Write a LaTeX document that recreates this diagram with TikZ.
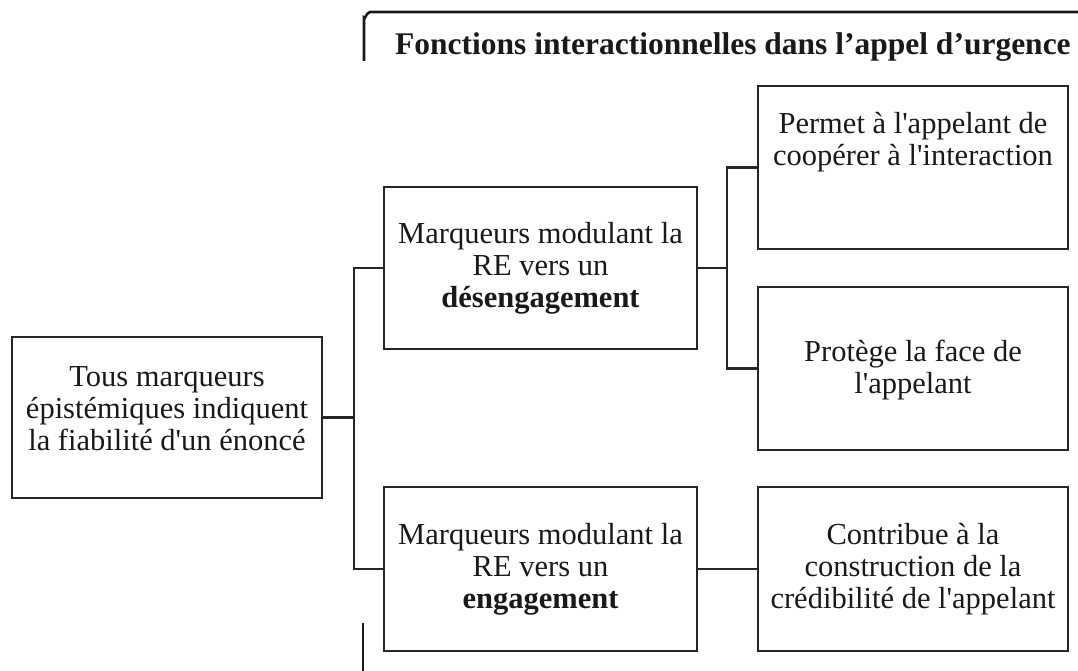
\documentclass[tikz,border=0pt]{standalone}
\usepackage{fontspec}
\setmainfont[Ligatures=TeXOff]{Liberation Serif}
\usetikzlibrary{calc}
\begin{document}
\begin{tikzpicture}[x=1pt,y=-1pt,
  box/.style={draw=black!85, line width=2.4pt, minimum width=310pt, minimum height=162pt, inner sep=0pt},
  txt/.style={align=center, inner sep=0pt, text=black!90, font=\fontsize{30.5}{32}\selectfont},
  lnk/.style={draw=black!85, line width=2.3pt},
  brk/.style={draw=black!90, line width=2.6pt}]
\useasboundingbox (0,0) rectangle (1078,671);
% boxes
\node[box, minimum height=161pt] (left) at (167,417.5) {};
\node[box, minimum width=313pt] (mt) at (540.5,268) {};
\node[box, minimum width=313pt, minimum height=164pt] (mb) at (540.5,569) {};
\node[box, minimum height=163pt] (rt) at (913,167.5) {};
\node[box, minimum height=163pt] (rm) at (913,368.5) {};
\node[box, minimum height=164pt] (rb) at (913,569) {};
% texts
\node[txt] (leftt) at ($(left)+(0,-9)$) {Tous marqueurs\\épistémiques indiquent\\la fiabilité d'un énoncé};
\node[txt] (mtt) at (mt) {Marqueurs modulant la\\RE vers un\\\textbf{désengagement}};
\node[txt] (mbt) at (mb) {Marqueurs modulant la\\RE vers un\\\textbf{engagement}};
\node[txt] (rtt) at ($(rt)+(0,-25)$) {Permet à l'appelant de\\coopérer à l'interaction};
\node[txt] (rmt) at ($(rm)+(0,2)$) {Protège la face de\\l'appelant};
\node[txt] (rbt) at (rb) {Contribue à la\\construction de la\\crédibilité de l'appelant};
% connectors
\coordinate (s1) at (354,0);
\coordinate (s2) at (727,0);
\draw[lnk] (left.east) -- (left.east -| s1);
\draw[lnk] (mt.west) -- (mt.west -| s1) -- (mb.west -| s1) -- (mb.west);
\draw[lnk] (mt.east) -- (mt.east -| s2);
\draw[lnk] (rt.west) -- (rt.west -| s2) -- (rm.west -| s2) -- (rm.west);
\draw[lnk] (mb.east) -- (rb.west);
% title bracket
\coordinate (bTop) at (1078,12);
\coordinate (bDown) at (364,61);
\coordinate (bLow1) at (363,623);
\coordinate (bLow2) at (363,671);
\draw[brk] (bDown) -- (364,18) to[out=-90,in=180] (370,12) -- (bTop);
\draw[brk] (bLow1) -- (bLow2);
\node[anchor=base west, inner sep=0pt, text=black!90, font=\bfseries\fontsize{31.5}{36}\selectfont] (title) at (395,55) {Fonctions interactionnelles dans l’appel d’urgence};
\end{tikzpicture}
\end{document}
